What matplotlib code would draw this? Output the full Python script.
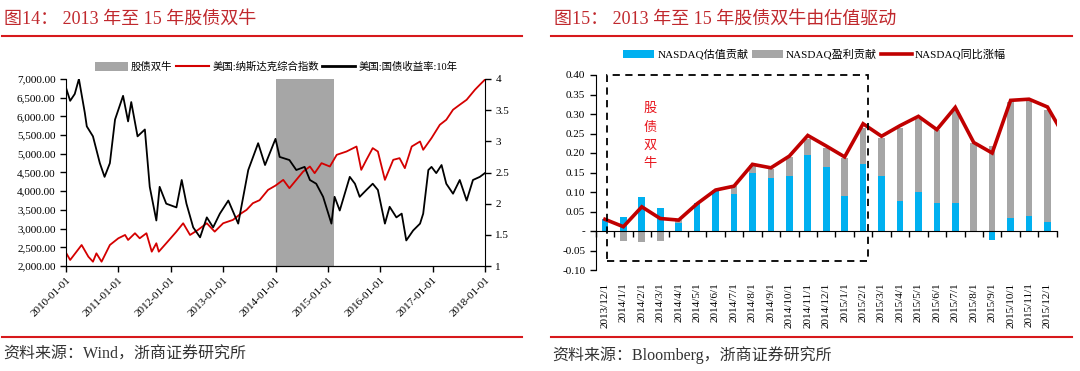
import numpy as np
import pandas as pd
import matplotlib
matplotlib.use('Agg')
import matplotlib.pyplot as plt
import matplotlib.dates as mdates
from matplotlib.patches import Patch, Rectangle
from matplotlib.lines import Line2D
from matplotlib.ticker import FuncFormatter

plt.rcParams['font.family'] = ['Liberation Serif', 'Noto Sans CJK SC', 'DejaVu Sans']

# ---- left chart: NASDAQ composite & US 10Y yield
nasdaq_dates = ['2010-01-01', '2010-01-30', '2010-04-20', '2010-06-06', '2010-07-08',
                '2010-08-01', '2010-09-06', '2010-11-03', '2011-01-01', '2011-02-17',
                '2011-03-10', '2011-04-27', '2011-05-30', '2011-07-16', '2011-08-22',
                '2011-09-23', '2011-10-10', '2011-12-01', '2012-02-10', '2012-03-28',
                '2012-05-15', '2012-07-09', '2012-09-09', '2012-11-03', '2013-01-01',
                '2013-03-10', '2013-05-08', '2013-06-13', '2013-07-27', '2013-09-12',
                '2013-11-10', '2014-01-01', '2014-02-24', '2014-04-08', '2014-05-26',
                '2014-07-13', '2014-08-29', '2014-10-01', '2014-11-18', '2015-01-15',
                '2015-03-04', '2015-05-11', '2015-07-20', '2015-08-22', '2015-09-27',
                '2015-11-10', '2015-12-16', '2016-02-03', '2016-04-01', '2016-05-15',
                '2016-06-21', '2016-08-08', '2016-10-05', '2016-10-27', '2016-12-24',
                '2017-02-20', '2017-04-06', '2017-05-23', '2017-07-09', '2017-08-26',
                '2017-10-23', '2017-11-26', '2017-12-31']
nasdaq = [2356, 2161, 2562, 2249, 2115,
          2339, 2115, 2562, 2741, 2830,
          2696, 2876, 2741, 2876, 2383,
          2608, 2383, 2608, 2919, 3143,
          2830, 2964, 3143, 2919, 3143,
          3232, 3411, 3500, 3679, 3760,
          4035, 4150, 4303, 4081, 4303,
          4526, 4660, 4482, 4750, 4660,
          4973, 5061, 5195, 4571, 4839,
          5152, 5061, 4303, 4839, 4884,
          4616, 5195, 5329, 5107, 5420,
          5776, 5910, 6178, 6312, 6445,
          6713, 6847, 6981]

yield_dates = ['2010-01-01', '2010-01-30', '2010-03-03', '2010-04-01', '2010-05-12',
               '2010-05-26', '2010-07-08', '2010-08-25', '2010-09-27', '2010-11-03',
               '2010-12-09', '2011-02-03', '2011-03-10', '2011-04-01', '2011-05-15',
               '2011-07-05', '2011-08-08', '2011-09-23', '2011-10-16', '2011-12-01',
               '2012-02-10', '2012-03-18', '2012-04-20', '2012-06-06', '2012-07-24',
               '2012-09-09', '2012-10-23', '2012-12-09', '2013-02-06', '2013-04-16',
               '2013-06-25', '2013-09-02', '2013-10-20', '2014-01-01', '2014-01-30',
               '2014-04-08', '2014-05-26', '2014-07-23', '2014-08-29', '2014-10-12',
               '2014-11-29', '2015-01-26', '2015-02-17', '2015-03-25', '2015-06-03',
               '2015-07-09', '2015-08-11', '2015-09-27', '2015-11-10', '2015-12-16',
               '2016-02-03', '2016-03-07', '2016-04-23', '2016-05-30', '2016-07-01',
               '2016-08-18', '2016-10-05', '2016-10-27', '2016-12-02', '2016-12-24',
               '2017-01-26', '2017-03-04', '2017-04-06', '2017-05-23', '2017-07-09',
               '2017-08-26', '2017-10-09', '2017-11-26', '2017-12-31']
us10y = [3.86, 3.65, 3.76, 4.00, 3.46,
         3.24, 3.08, 2.65, 2.43, 2.65,
         3.35, 3.73, 3.32, 3.63, 3.08,
         3.19, 2.27, 1.73, 2.27, 2.00,
         1.94, 2.38, 2.00, 1.62, 1.46,
         1.78, 1.62, 1.84, 2.05, 1.68,
         2.54, 2.97, 2.62, 3.04, 2.75,
         2.70, 2.54, 2.59, 2.38, 2.32,
         2.11, 1.68, 2.11, 1.89, 2.43,
         2.32, 2.11, 2.22, 2.32, 2.22,
         1.68, 1.95, 1.78, 1.84, 1.41,
         1.57, 1.68, 1.84, 2.54, 2.59,
         2.49, 2.62, 2.32, 2.16, 2.38,
         2.05, 2.38, 2.43, 2.49]

bull_start = '2014-01-01'
bull_end = '2015-02-15'

# ---- right chart: NASDAQ yoy decomposition
months = ['2013/12/1', '2014/1/1', '2014/2/1', '2014/3/1', '2014/4/1', '2014/5/1',
          '2014/6/1', '2014/7/1', '2014/8/1', '2014/9/1', '2014/10/1', '2014/11/1',
          '2014/12/1', '2015/1/1', '2015/2/1', '2015/3/1', '2015/4/1', '2015/5/1',
          '2015/6/1', '2015/7/1', '2015/8/1', '2015/9/1', '2015/10/1', '2015/11/1',
          '2015/12/1']
val_contrib = [0.030, 0.037, 0.088, 0.058, 0.021, 0.073, 0.102, 0.094, 0.148, 0.136,
               0.142, 0.194, 0.165, 0.091, 0.171, 0.142, 0.076, 0.100, 0.073, 0.073,
               -0.003, -0.024, 0.033, 0.038, 0.023]
eps_contrib = [0.000, -0.026, -0.027, -0.026, 0.007, -0.002, 0.003, 0.022, 0.020, 0.024,
               0.048, 0.042, 0.048, 0.097, 0.094, 0.097, 0.188, 0.187, 0.185, 0.238,
               0.226, 0.219, 0.299, 0.300, 0.288]
# last point (2016/1) lies beyond the visible range, the line runs out to the edge
yoy = [0.030, 0.011, 0.062, 0.032, 0.028, 0.070, 0.105, 0.115, 0.171, 0.162,
       0.192, 0.245, 0.218, 0.190, 0.275, 0.243, 0.270, 0.294, 0.260, 0.317,
       0.227, 0.200, 0.335, 0.338, 0.318, 0.236]

TITLE_RED = '#C0282D'
RULE_RED = '#D7191C'
NAS_RED = '#D40000'
BLUE = '#00B0F0'
GRAY = '#A6A6A6'

W, H = 1080, 371
fig = plt.figure(figsize=(W / 100, H / 100), dpi=100)


def fx(px):
    return px / W


def fy(py):
    return 1 - py / H


# titles, rules, sources
fig.text(fx(4), fy(19), '图14： 2013 年至 15 年股债双牛', color=TITLE_RED,
         fontsize=13, va='center', ha='left')
fig.text(fx(554), fy(19), '图15： 2013 年至 15 年股债双牛由估值驱动', color=TITLE_RED,
         fontsize=13, va='center', ha='left')
for x0, x1 in [(2, 522), (551, 1072)]:
    fig.add_artist(Line2D([fx(x0), fx(x1)], [fy(36), fy(36)], color=RULE_RED, lw=1.5))
    fig.add_artist(Line2D([fx(x0), fx(x1)], [fy(337), fy(337)], color=RULE_RED, lw=1.5))
fig.text(fx(3), fy(355), '资料来源：Wind，浙商证券研究所', color='#333333',
         fontsize=11.5, va='center', ha='left')
fig.text(fx(552), fy(355), '资料来源：Bloomberg，浙商证券研究所', color='#333333',
         fontsize=11.5, va='center', ha='left')

# ---------------- left chart
ax1 = fig.add_axes([fx(66), fy(266), fx(485) - fx(66), fy(79) - fy(266)])
d_nas = pd.to_datetime(nasdaq_dates)
d_yld = pd.to_datetime(yield_dates)
ax1.axvspan(pd.Timestamp(bull_start), pd.Timestamp(bull_end), color=GRAY, lw=0, zorder=0)
ax1.plot(d_nas, nasdaq, color=NAS_RED, lw=1.3)
ax1.set_ylim(2000, 7000)
ax1.set_yticks(np.arange(2000, 7001, 500))
ax1.yaxis.set_major_formatter(FuncFormatter(lambda v, p: '{:,.2f}'.format(v)))
ax1.set_xlim(pd.Timestamp('2010-01-01'), pd.Timestamp('2018-01-01'))
ax1.xaxis.set_major_locator(mdates.YearLocator())
ax1.xaxis.set_major_formatter(mdates.DateFormatter('%Y-%m-%d'))
for lab in ax1.get_xticklabels():
    lab.set_rotation(45)
    lab.set_ha('right')
    lab.set_rotation_mode('anchor')
ax1.tick_params(axis='both', labelsize=8, direction='out', length=4, width=1)
ax1.tick_params(axis='x', pad=3)
ax1.spines['top'].set_visible(False)
ax1.spines['right'].set_visible(False)

ax2 = ax1.twinx()
ax2.plot(d_yld, us10y, color='black', lw=1.3)
ax2.set_ylim(1, 4)
ax2.set_yticks(np.arange(1, 4.01, 0.5))
ax2.yaxis.set_major_formatter(FuncFormatter(lambda v, p: '%g' % v))
ax2.tick_params(axis='y', labelsize=8, direction='out', length=4, width=1)
ax2.spines['top'].set_visible(False)
ax2.spines['left'].set_visible(False)

h_left = [Patch(facecolor=GRAY, edgecolor='none'),
          Line2D([], [], color=NAS_RED, lw=1.5),
          Line2D([], [], color='black', lw=2)]
fig.legend(h_left, ['股债双牛', '美国:纳斯达克综合指数', '美国:国债收益率:10年'],
           loc='center', bbox_to_anchor=(fx(276), fy(67)), ncol=3, frameon=False,
           fontsize=7.5, handlelength=3.2, handleheight=0.9, handletextpad=0.3,
           columnspacing=0.3, borderpad=0)

# ---------------- right chart
ax3 = fig.add_axes([fx(595.7), fy(270), fx(1056.7) - fx(595.7), fy(75) - fy(270)])
x = np.arange(len(months))
blue = np.array(val_contrib)
gray = np.array(eps_contrib)
gray_bottom = np.where(gray >= 0, np.maximum(blue, 0), np.minimum(blue, 0))
bw = 0.36
ax3.bar(x, blue, width=bw, color=BLUE, zorder=2)
ax3.bar(x, gray, width=bw, bottom=gray_bottom, color=GRAY, zorder=2)
ax3.plot(np.arange(len(yoy)), yoy, color='#C00000', lw=2.6, zorder=4,
         solid_joinstyle='miter')
ax3.set_xlim(-0.5, len(months) - 0.5)
ax3.set_ylim(-0.10, 0.40)
ax3.set_yticks(np.arange(-0.10, 0.401, 0.05))
ax3.yaxis.set_major_formatter(
    FuncFormatter(lambda v, p: '-' if abs(v) < 1e-9 else '%.2f' % v))
ax3.spines['top'].set_visible(False)
ax3.spines['right'].set_visible(False)
ax3.spines['bottom'].set_position(('data', 0))
ax3.set_xticks(np.arange(-0.5, len(months), 1))
ax3.set_xticklabels([])
ax3.tick_params(axis='both', labelsize=8, direction='out', length=4, width=1)

sec = ax3.secondary_xaxis(0)
sec.set_xticks(x)
sec.set_xticklabels(months, rotation=90, fontsize=8, va='top')
sec.tick_params(length=0, pad=9)
sec.spines['bottom'].set_visible(False)

box = Rectangle((0.12, -0.076), 14.16, 0.476, fill=False, edgecolor='black',
                lw=1.3, ls=(0, (4, 3)), clip_on=False, zorder=5)
ax3.add_patch(box)
ax3.text(2.44, 0.243, '股\n债\n双\n牛', color='#E8141C', fontsize=9.5,
         ha='center', va='center', linespacing=1.55, family=['Noto Sans CJK SC'])

h_right = [Patch(facecolor=BLUE, edgecolor='none'),
           Patch(facecolor=GRAY, edgecolor='none'),
           Line2D([], [], color='#C00000', lw=2.6)]
fig.legend(h_right, ['NASDAQ估值贡献', 'NASDAQ盈利贡献', 'NASDAQ同比涨幅'],
           loc='center', bbox_to_anchor=(fx(814.5), fy(54.5)), ncol=3, frameon=False,
           fontsize=8, handlelength=2.8, handleheight=0.7, handletextpad=0.3,
           columnspacing=0.3, borderpad=0)

fig.savefig('out.png', dpi=100)
